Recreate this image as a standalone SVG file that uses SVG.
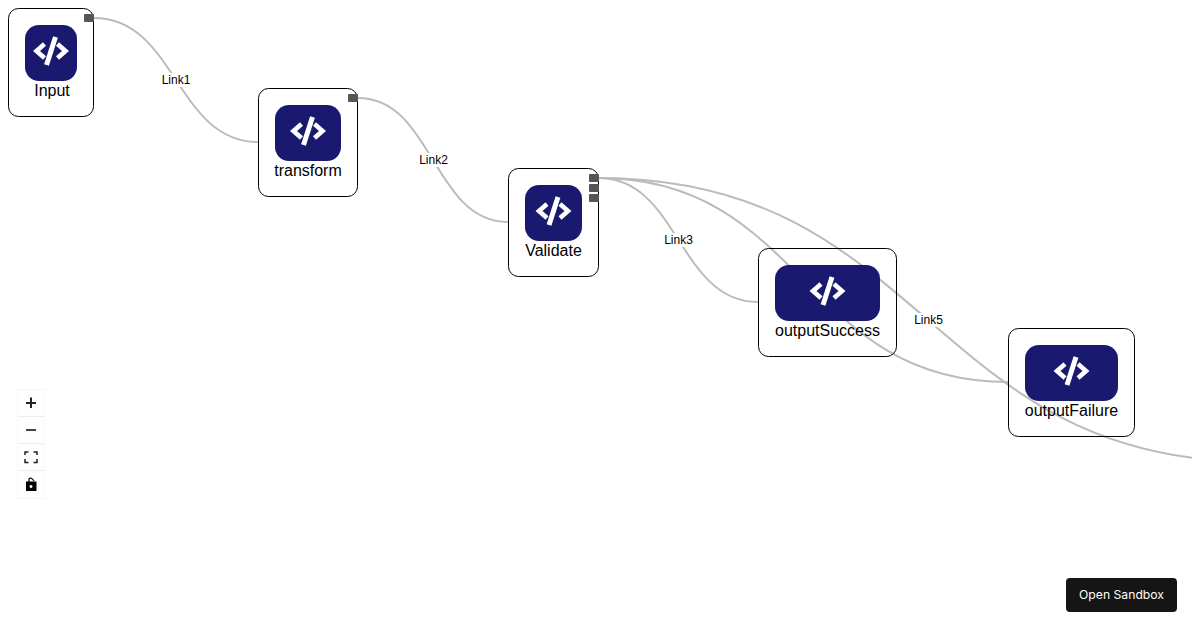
<svg xmlns="http://www.w3.org/2000/svg" width="1200" height="630" viewBox="0 0 1200 630">
<style>
.edge{fill:none;stroke:#bbb;stroke-width:2}
.box{fill:none;stroke:#000;stroke-width:1}
.ico{fill:#191970}
.glyph{fill:none;stroke:#fff;stroke-width:4.600;stroke-linejoin:miter}
.slash{fill:none;stroke:#fff;stroke-width:5}
.name{font:16px "Liberation Sans",Arial,sans-serif;fill:#000;text-anchor:middle}
.elabel{font:12px "Liberation Sans",Arial,sans-serif;fill:#000;text-anchor:middle}
.handle{fill:#555}
.ctl{fill:#fefefe}
.sep{stroke:#eee;stroke-width:1}
</style>
<defs>
<g id="code">
<path class="glyph" d="M-6.500,-7 L-14.500,0 L-6.500,7"/>
<path class="glyph" d="M6.500,-7 L14.500,0 L6.500,7"/>
<path class="slash" d="M4.500,-14 L-4.500,14"/>
</g>
<clipPath id="page"><rect x="0" y="0" width="1192" height="630"/></clipPath>
</defs>
<rect width="1200" height="630" fill="#fff"/>
<g id="connectors" clip-path="url(#page)">
<path class="edge" d="M94,18 C176,18 176,142 258,142"/>
<path class="edge" d="M358,98 C433,98 433,222 508,222"/>
<path class="edge" d="M599,178 C678.5,178 678.5,302 758,302"/>
<path class="edge" d="M599,178 C803.5,178 803.5,382 1008,382"/>
<path class="edge" d="M599,178 C928,178 928,462 1257,462"/>
<rect x="162" y="73" width="28" height="14" fill="#fff"/>
<text class="elabel" x="176" y="84">Link1</text>
<rect x="419" y="153" width="28" height="14" fill="#fff"/>
<text class="elabel" x="433.500" y="164">Link2</text>
<rect x="664" y="233" width="29" height="14" fill="#fff"/>
<text class="elabel" x="678.500" y="244">Link3</text>
<rect x="914" y="313" width="29" height="14" fill="#fff"/>
<text class="elabel" x="928.500" y="324">Link5</text>
</g>
<g id="node-input">
<rect class="box" x="8.500" y="8.500" width="85" height="108" rx="10"/>
<rect class="ico" x="25" y="25" width="52" height="56" rx="14"/>
<use href="#code" x="51" y="51"/>
<text class="name" x="52" y="96">Input</text>
<rect class="handle" x="84" y="14" width="10" height="8" rx="1"/>
</g>
<g id="node-transform">
<rect class="box" x="258.500" y="88.500" width="99" height="108" rx="10"/>
<rect class="ico" x="275" y="105" width="66" height="56" rx="14"/>
<use href="#code" x="308" y="131"/>
<text class="name" x="308" y="176">transform</text>
<rect class="handle" x="348" y="94" width="10" height="8" rx="1"/>
</g>
<g id="node-validate">
<rect class="box" x="508.500" y="168.500" width="90" height="108" rx="10"/>
<rect class="ico" x="525" y="185" width="57" height="56" rx="14"/>
<use href="#code" x="553.500" y="211"/>
<text class="name" x="553.500" y="256">Validate</text>
<rect class="handle" x="589" y="174" width="10" height="8" rx="1"/>
<rect class="handle" x="589" y="184" width="10" height="8" rx="1"/>
<rect class="handle" x="589" y="194" width="10" height="8" rx="1"/>
</g>
<g id="node-outputSuccess">
<rect class="box" x="758.500" y="248.500" width="138" height="108" rx="10"/>
<rect class="ico" x="775" y="265" width="105" height="56" rx="14"/>
<use href="#code" x="827.500" y="291"/>
<text class="name" x="827.500" y="336">outputSuccess</text>
</g>
<g id="node-outputFailure">
<rect class="box" x="1008.500" y="328.500" width="126" height="108" rx="10"/>
<rect class="ico" x="1025" y="345" width="93" height="56" rx="14"/>
<use href="#code" x="1071.500" y="371"/>
<text class="name" x="1071.500" y="416">outputFailure</text>
</g>
<g id="controls">
<rect x="18" y="390" width="26" height="108" fill="none" stroke="#f2f2f2" stroke-width="1.500"/>
<rect class="ctl" x="18" y="390" width="26" height="108"/>
<line class="sep" x1="18" y1="416.500" x2="44" y2="416.500"/>
<line class="sep" x1="18" y1="443.500" x2="44" y2="443.500"/>
<line class="sep" x1="18" y1="470.500" x2="44" y2="470.500"/>
<path d="M31,397.500 V408 M26,403 H36" stroke="#222" stroke-width="2" fill="none"/>
<path d="M26,430 H36" stroke="#444" stroke-width="2" fill="none"/>
<path d="M25,455 V452 H28.500 M33.500,452 H37 V455 M37,459 V462.500 H33.500 M28.500,462.500 H25 V459" stroke="#222" stroke-width="1.500" fill="none"/>
<path d="M26,481.500 H36.500 V491 H26 Z M31,485 a1.500,1.500 0 1 0 .01,0 Z" fill="#000" fill-rule="evenodd"/>
<path d="M29,482 V479 Q31,476.500 34,481" stroke="#000" stroke-width="1.200" fill="none"/>
</g>
<g id="open-sandbox">
<rect x="1066" y="578" width="111" height="34" rx="4" fill="#151515"/>
<text x="1121.500" y="599" font-family="Inter, 'Liberation Sans', sans-serif" font-size="12.200" fill="#fff" text-anchor="middle">Open Sandbox</text>
</g>
</svg>
